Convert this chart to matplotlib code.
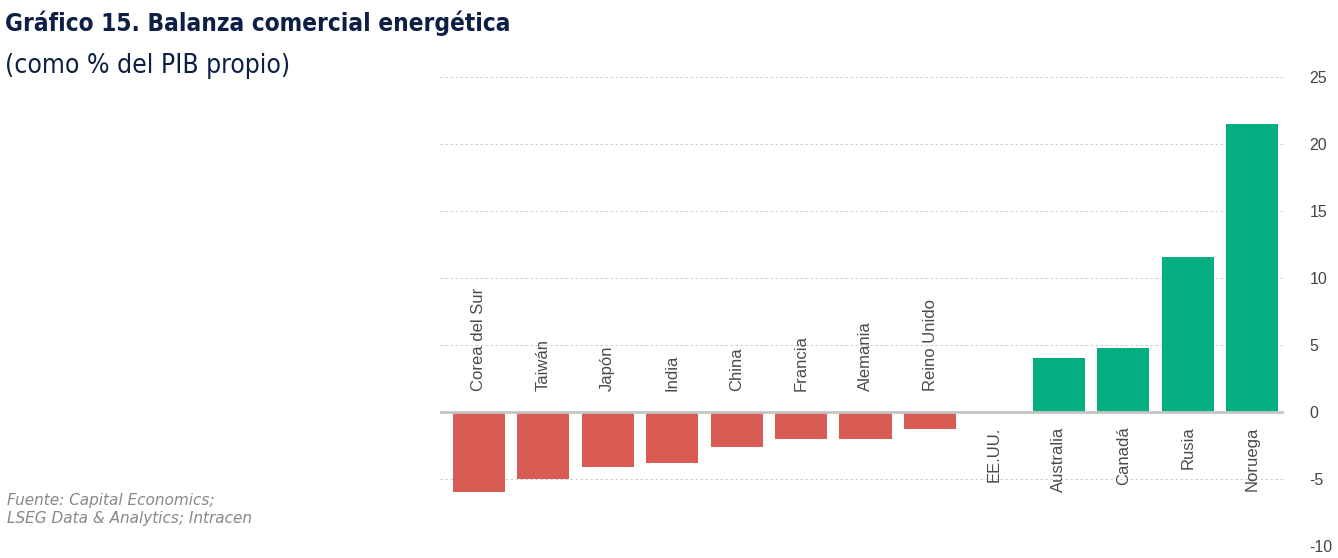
import numpy as np
import matplotlib.pyplot as plt

plt.rcParams['axes.unicode_minus'] = False

# DATA =========================================================================
countries = ['Corea del Sur', 'Taiwán', 'Japón', 'India', 'China', 'Francia',
             'Alemania', 'Reino Unido', 'EE.UU.', 'Australia', 'Canadá',
             'Rusia', 'Noruega']
balance = [-6.0, -5.0, -4.1, -3.8, -2.6, -2.0, -2.0, -1.3, 0.0, 4.0, 4.8,
           11.6, 21.5]
y_ticks = [-10, -5, 0, 5, 10, 15, 20, 25]

RED = '#d95c54'
GREEN = '#04ae82'
NAVY = '#0d1f45'

# FIGURE =======================================================================
fig = plt.figure(figsize=(13.38, 5.58), dpi=100)
ax = fig.add_axes([0.329, 0.0215, 0.631, 0.8405])

x = np.arange(len(countries))
colors = [RED if v < 0 else GREEN for v in balance]
ax.bar(x, balance, width=0.81, color=colors, zorder=3)

ax.set_xlim(-0.6, 12.5)
ax.set_ylim(-10, 25)
ax.set_yticks(y_ticks)
ax.yaxis.tick_right()
ax.tick_params(axis='y', length=0, pad=18, labelsize=11.5, labelcolor='#444444')
ax.tick_params(axis='x', bottom=False, labelbottom=False)
for lab in ax.get_yticklabels():
    lab.set_family('Liberation Sans')
for s in ax.spines.values():
    s.set_visible(False)

for t in y_ticks:
    if t != 0:
        ax.axhline(t, color='#c4c4c4', lw=0.6, ls=(0, (3, 3)), zorder=1)
ax.axhline(0, color='#c4c4c4', lw=2, zorder=4)

# country labels: above zero for negatives, below for the rest
for xi, name, v in zip(x, countries, balance):
    if v < 0:
        ax.text(xi, 1.6, name, rotation=90, ha='center', va='bottom',
                fontsize=12, color='#4a4a4a', family='Liberation Sans')
    else:
        ax.text(xi, -1.1, name, rotation=90, ha='center', va='top',
                fontsize=12, color='#4a4a4a', family='Liberation Sans')

# TEXTS ========================================================================
fig.text(0.004, 0.958, 'Gráfico 15. Balanza comercial energética',
         fontsize=17.5, fontweight='bold', color=NAVY, va='center',
         family='DejaVu Sans', fontstretch='condensed')
fig.text(0.004, 0.882, '(como % del PIB propio)', fontsize=19, color=NAVY,
         va='center', family='DejaVu Sans', fontstretch='condensed')
fig.text(0.005, 0.087, 'Fuente: Capital Economics;\nLSEG Data & Analytics; Intracen',
         fontsize=11, style='italic', color='#888888', va='center',
         linespacing=1.3, family='DejaVu Sans')

fig.savefig('out.png', dpi=100)
